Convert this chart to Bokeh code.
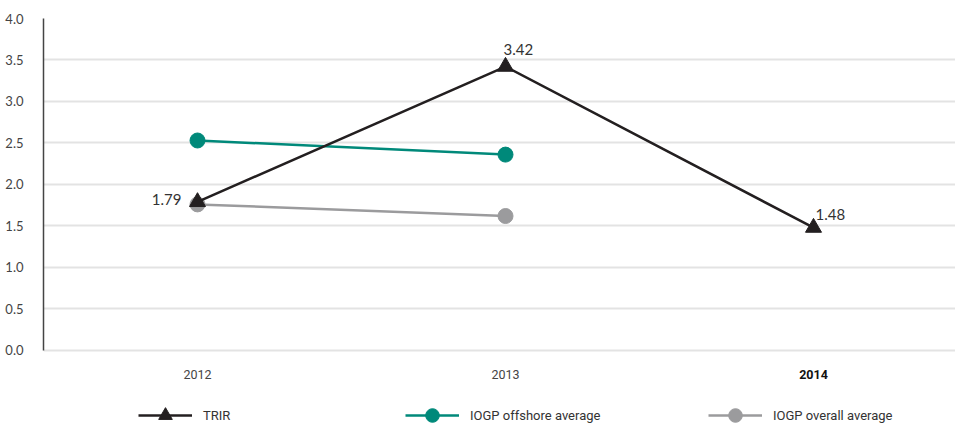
from bokeh.plotting import figure
from bokeh.models import (ColumnDataSource, Range1d, FixedTicker, Legend, LegendItem,
                          CustomJSTickFormatter)
from bokeh.core.properties import value
from bokeh.embed import file_html
from bokeh.resources import INLINE

years = ["2012", "2013", "2014"]
trir = [1.79, 3.42, 1.48]
offshore_years = ["2012", "2013"]
offshore = [2.53, 2.36]
overall_years = ["2012", "2013"]
overall = [1.76, 1.62]
y_ticks = [0.0, 0.5, 1.0, 1.5, 2.0, 2.5, 3.0, 3.5, 4.0]

xpos = {y: i for i, y in enumerate(years)}
NARROW = "Roboto"

W, H = 955, 424
p = figure(width=W, height=H, output_backend="svg", toolbar_location=None,
           x_range=Range1d(-0.5, 2.461), y_range=Range1d(-0.892, 4.0),
           min_border_left=43, min_border_right=0, min_border_top=18, min_border_bottom=0)
p.outline_line_color = None
p.xaxis.visible = False
p.xgrid.visible = False
p.ygrid.ticker = FixedTicker(ticks=y_ticks)
p.ygrid.grid_line_color = "#e3e3e3"
p.ygrid.grid_line_width = 2
p.yaxis.ticker = FixedTicker(ticks=y_ticks)
p.yaxis.bounds = (0, 4)
p.yaxis.axis_line_color = "#444444"
p.yaxis.axis_line_width = 1.5
p.yaxis.major_tick_line_color = None
p.yaxis.minor_tick_line_color = None
p.yaxis.major_label_standoff = 14
p.yaxis.major_label_text_font = "Lato"
p.yaxis.major_label_text_font_size = "13px"
p.yaxis.major_label_text_color = "#444444"
p.yaxis.formatter = CustomJSTickFormatter(code="return tick.toFixed(1);")

src_t = ColumnDataSource(dict(x=[xpos[y] for y in years], y=trir))
src_o = ColumnDataSource(dict(x=[xpos[y] for y in offshore_years], y=offshore))
src_g = ColumnDataSource(dict(x=[xpos[y] for y in overall_years], y=overall))

teal = "#00897a"
grey = "#9b9b9d"
black = "#231f20"

g_line = p.line("x", "y", source=src_g, line_color=grey, line_width=2.5)
g_pts = p.scatter("x", "y", source=src_g, marker="circle", size=15,
                  fill_color=grey, line_color=grey)
o_line = p.line("x", "y", source=src_o, line_color=teal, line_width=2.5)
o_pts = p.scatter("x", "y", source=src_o, marker="circle", size=15,
                  fill_color=teal, line_color=teal)
t_line = p.line("x", "y", source=src_t, line_color=black, line_width=2.5)
t_pts = p.scatter("x", "y", source=src_t, marker="triangle", size=16,
                  fill_color=black, line_color=black)

# data labels
lbl_align = ["right", "left", "left"]
lbl_dx = [-16, -2, 2]
lbl_dy = [-2, -17, -13]
src_l = ColumnDataSource(dict(x=[xpos[y] for y in years], y=trir,
                              t=[f"{v:.2f}" for v in trir],
                              al=lbl_align, dx=lbl_dx, dy=lbl_dy))
p.text("x", "y", text="t", source=src_l, text_align="al", x_offset="dx",
       y_offset="dy", text_baseline="middle", text_font=value("Lato"),
       text_font_size="15px", text_color="#333333")

# category labels
cat_y = -0.29
src_c = ColumnDataSource(dict(x=[xpos[y] for y in years], y=[cat_y] * 3, t=years,
                              st=["normal", "normal", "bold"],
                              c=["#444444", "#444444", "#111111"]))
p.text("x", "y", text="t", source=src_c, text_align="center", text_baseline="middle",
       text_font=value(NARROW), text_font_size="12.5px",
       text_font_style="st", text_color="c")

def add_legend(label, rends, xloc):
    lg = Legend(items=[LegendItem(label=label, renderers=rends)], location=(xloc, -8),
                orientation="horizontal", padding=0, margin=0, spacing=0,
                glyph_width=54, glyph_height=34, label_standoff=11,
                border_line_color=None, background_fill_alpha=0,
                label_text_font=NARROW, label_text_font_size="13px",
                label_text_color="#333333", label_text_baseline="middle")
    p.add_layout(lg, "center")

add_legend("TRIR", [t_line, t_pts], 95)
add_legend("IOGP offshore average", [o_line, o_pts], 362)
add_legend("IOGP overall average", [g_line, g_pts], 665)

open("out.html", "w").write(file_html(p, INLINE))
